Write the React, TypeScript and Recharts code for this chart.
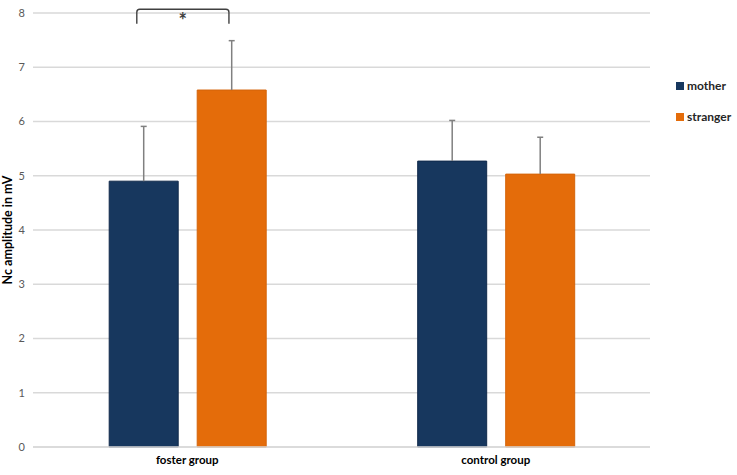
import React from 'react';
import { BarChart, Bar, XAxis, YAxis, CartesianGrid, Legend, LabelList } from 'recharts';

const categories = ['foster group', 'control group'];
const motherValues = [4.9, 5.27];
const strangerValues = [6.58, 5.03];
const motherErrors = [1.01, 0.75];
const strangerErrors = [0.91, 0.68];
const yTicks = [0, 1, 2, 3, 4, 5, 6, 7, 8];
const bracketTop = 8.07;
const bracketBottom = 7.8;

const data = categories.map((c, i) => ({
  name: c,
  mother: motherValues[i],
  stranger: strangerValues[i],
  motherErr: motherErrors[i],
  strangerErr: strangerErrors[i],
}));

const FONT = 'Lato, "Open Sans", sans-serif';
const BAR_GAP = 19;

const makeErr = (errs: number[]) => (props: any) => {
  const { x, y, width, height, value, index } = props;
  if (!value) return null;
  const ppu = height / value;
  const cx = x + width / 2;
  const top = y - errs[index] * ppu;
  return (
    <g>
      <line x1={cx} x2={cx} y1={y} y2={top} stroke="#808080" strokeWidth={1.5} />
      <line x1={cx - 3} x2={cx + 3} y1={top} y2={top} stroke="#808080" strokeWidth={1.5} />
    </g>
  );
};
const MotherErr = makeErr(motherErrors);
const StrangerErr = makeErr(strangerErrors);

const Bracket = (props: any) => {
  const { x, y, width, height, value, index } = props;
  if (index !== 0) return null;
  const ppu = height / value;
  const base = y + height;
  const x1 = x + width * 0.4;
  const x2 = x + width + BAR_GAP + width * 0.46;
  const yt = base - bracketTop * ppu;
  const yb = base - bracketBottom * ppu;
  const r = 3;
  const d = `M${x1},${yb} L${x1},${yt + r} Q${x1},${yt} ${x1 + r},${yt} L${x2 - r},${yt} Q${x2},${yt} ${x2},${yt + r} L${x2},${yb}`;
  return (
    <g>
      <path d={d} fill="none" stroke="#404040" strokeWidth={1.4} />
      <text x={(x1 + x2) / 2} y={yt + 19} textAnchor="middle" fontSize={20} fontWeight="bold" fill="#404040" fontFamily={FONT}>*</text>
    </g>
  );
};

const LegendContent = () => {
  const items = [
    { label: 'mother', color: '#17375E' },
    { label: 'stranger', color: '#E46C0A' },
  ];
  return (
    <div style={{ fontFamily: FONT }}>
      {items.map((it) => (
        <div key={it.label} style={{ display: 'flex', alignItems: 'center', height: 31 }}>
          <span style={{ display: 'inline-block', width: 8, height: 8, background: it.color, marginRight: 3 }} />
          <span style={{ fontSize: 12, fontWeight: 'bold', color: '#262626' }}>{it.label}</span>
        </div>
      ))}
    </div>
  );
};

const YLabel = (props: any) => {
  const vb = props.viewBox || {};
  const cy = vb.y + vb.height / 2;
  return (
    <text x={12} y={cy} transform={`rotate(-90 12 ${cy})`} textAnchor="middle" fontSize={12.5} fontWeight="bold" fill="#000" fontFamily={FONT}>
      Nc amplitude in mV
    </text>
  );
};

export default function App() {
  return (
    <div style={{ position: 'absolute', left: 0, top: 0, background: '#fff' }}>
      <BarChart
        width={737}
        height={475}
        data={data}
        margin={{ top: 13, right: 87, bottom: 0, left: 0 }}
        barGap={BAR_GAP}
        barCategoryGap="24.7%"
      >
        <CartesianGrid vertical={false} stroke="#d9d9d9" strokeWidth={1.3} />
        <XAxis
          dataKey="name"
          height={28}
          axisLine={{ stroke: '#d9d9d9', strokeWidth: 1.3 }}
          tickLine={false}
          tickMargin={3}
          tick={{ fontSize: 11.5, fontWeight: 'bold', fill: '#000', fontFamily: FONT }}
        />
        <YAxis
          width={33}
          domain={[0, 8]}
          ticks={yTicks}
          axisLine={false}
          tickLine={false}
          tick={{ fontSize: 11, fill: '#595959', fontFamily: FONT }}
          label={<YLabel />}
        />
        <Legend
          layout="horizontal"
          verticalAlign="middle"
          align="center"
          content={<LegendContent />}
          wrapperStyle={{ position: 'absolute', left: 676, top: 70, width: 60 }}
        />
        <Bar dataKey="mother" fill="#17375E" stroke="#10294a" strokeWidth={1} isAnimationActive={false}>
          <LabelList dataKey="mother" content={<MotherErr />} />
          <LabelList dataKey="mother" content={<Bracket />} />
        </Bar>
        <Bar dataKey="stranger" fill="#E46C0A" stroke="#d4640a" strokeWidth={1} isAnimationActive={false}>
          <LabelList dataKey="stranger" content={<StrangerErr />} />
        </Bar>
      </BarChart>
    </div>
  );
}
